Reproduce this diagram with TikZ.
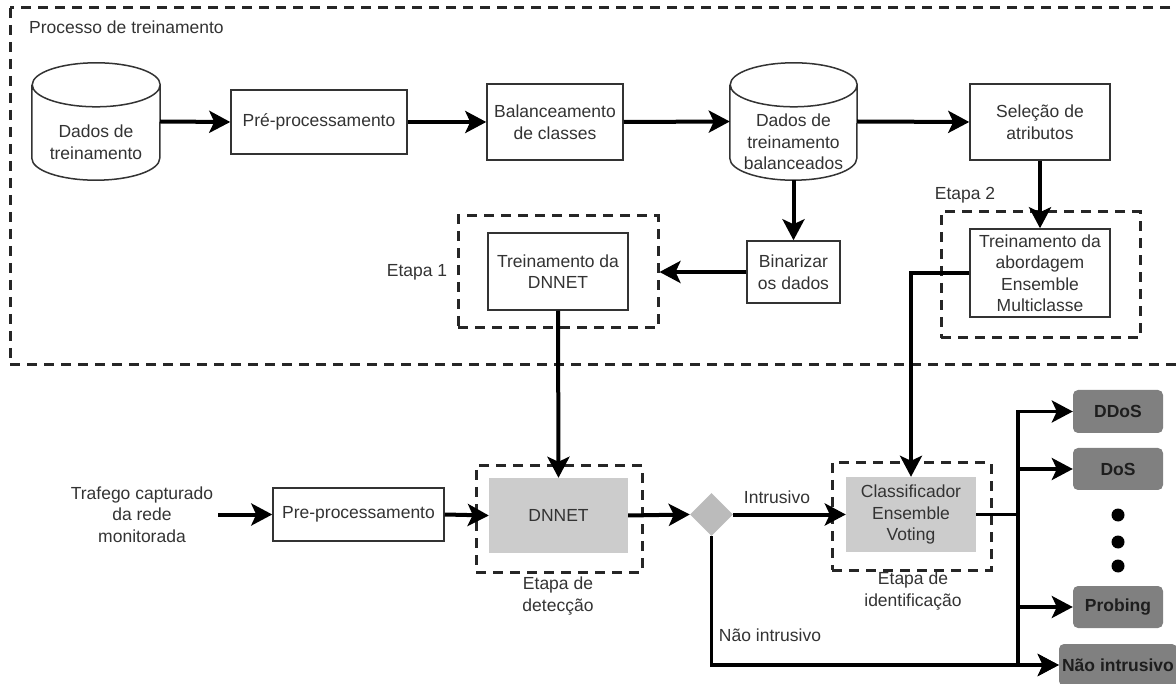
\documentclass[tikz,border=0pt]{standalone}
\usepackage{fontspec}
\setmainfont{Liberation Sans}
\usetikzlibrary{arrows.meta,shapes.geometric}

\definecolor{ink}{HTML}{333333}
\definecolor{lightfill}{HTML}{CCCCCC}
\definecolor{decfill}{HTML}{BBBBBB}
\definecolor{resfill}{HTML}{808080}
\definecolor{restext}{HTML}{1E1E1E}

\tikzset{
  txt/.style={font=\fontsize{17.5}{21.5}\selectfont, text=ink, align=center},
  procbox/.style={txt, draw=ink, line width=1.5pt, fill=white, inner sep=0pt},
  modelbox/.style={txt, fill=lightfill, draw=none, inner sep=0pt},
  stagebox/.style={draw=black!85, line width=3pt, dash pattern=on 10pt off 7pt, inner sep=0pt},
  cylline/.style={draw=ink, line width=1.5pt, fill=white},
  resbox/.style={font=\fontsize{17.5}{21.5}\selectfont\bfseries, text=restext, fill=resfill,
                 rounded corners=5pt, inner sep=0pt, minimum height=42pt},
  decision/.style={diamond, fill=decfill, draw=none, inner sep=0pt, minimum width=43pt, minimum height=43pt},
  dotmark/.style={circle, fill=black, inner sep=0pt, minimum size=13pt},
  flow/.style={line width=4pt, -{Stealth[length=21pt,width=22pt,inset=5pt]}},
  flowthin/.style={line width=3.5pt, -{Stealth[length=21pt,width=22pt,inset=5pt]}},
  link/.style={line width=3.5pt},
}

\begin{document}
\begin{tikzpicture}[x=1pt, y=-1pt]
\useasboundingbox (0,0) rectangle (1176,684);

% training process frame
\draw[stagebox] (10,8) rectangle (1185,365);
\node[txt, anchor=west, inner sep=0pt] (proctitle) at (29,27) {Processo de treinamento};

% training data cylinder
\node[minimum width=128pt, minimum height=117pt, inner sep=0pt] (db1) at (96,121.5) {};
\draw[cylline] ([yshift=-22pt]db1.north west) -- ([yshift=22pt]db1.south west)
  arc[start angle=180, end angle=360, x radius=64pt, y radius=22pt]
  -- ([yshift=-22pt]db1.north east)
  arc[start angle=0, end angle=180, x radius=64pt, y radius=22pt]
  arc[start angle=180, end angle=360, x radius=64pt, y radius=22pt];
\node[txt] (db1txt) at (96,142) {Dados de\\treinamento};

\node[procbox, minimum width=176pt, minimum height=64pt] (pre1) at (319,122) {Pré-processamento};
\node[procbox, minimum width=136pt, minimum height=76pt] (bal) at (555,122) {Balanceamento\\de classes};

% balanced data cylinder
\node[minimum width=127pt, minimum height=117pt, inner sep=0pt] (db2) at (793.5,121.5) {};
\draw[cylline] ([yshift=-22pt]db2.north west) -- ([yshift=22pt]db2.south west)
  arc[start angle=180, end angle=360, x radius=63.5pt, y radius=22pt]
  -- ([yshift=-22pt]db2.north east)
  arc[start angle=0, end angle=180, x radius=63.5pt, y radius=22pt]
  arc[start angle=180, end angle=360, x radius=63.5pt, y radius=22pt];
\node[txt] (db2txt) at (793.5,142) {Dados de\\treinamento\\balanceados};

\node[procbox, minimum width=140pt, minimum height=76pt] (sel) at (1040,122) {Seleção de\\atributos};

% stage 2
\node[stagebox, minimum width=199pt, minimum height=126pt] (e2) at (1040.5,275) {};
\node[txt] (e2lbl) at (965,195) {Etapa 2};
\node[procbox, minimum width=140pt, minimum height=88pt] (treinens) at (1040,273)
  {Treinamento da\\abordagem\\Ensemble\\Multiclasse};

\node[procbox, minimum width=93pt, minimum height=62pt] (bin) at (793.5,272) {Binarizar\\os dados};

% stage 1
\node[stagebox, minimum width=200pt, minimum height=112pt] (e1) at (558,272) {};
\node[txt] (e1lbl) at (417,272) {Etapa 1};
\node[procbox, minimum width=140pt, minimum height=77pt] (treindnn) at (558,271.5) {Treinamento da\\DNNET};

% detection pipeline
\node[txt, inner sep=5pt] (traffic) at (142,514.5) {Trafego capturado\\da rede\\monitorada};
\node[procbox, minimum width=171pt, minimum height=53pt] (pre2) at (358.5,514.5) {Pre-processamento};

\node[stagebox, minimum width=166pt, minimum height=106pt] (e3) at (559,519) {};
\node[modelbox, minimum width=139pt, minimum height=75pt] (dnnet) at (558.5,515.5) {DNNET};
\node[txt] (e3lbl) at (558,596) {Etapa de\\detecção};

\node[decision] (dec) at (711.5,514.5) {};
\node[txt] (intlbl) at (777,497) {Intrusivo};
\node[txt] (naolbl) at (770,635) {Não intrusivo};

\node[stagebox, minimum width=159pt, minimum height=107pt] (e4) at (911.5,516.5) {};
\node[modelbox, minimum width=130pt, minimum height=75pt] (cls) at (911,514.5) {Classificador\\Ensemble\\Voting};
\node[txt] (e4lbl) at (913,591) {Etapa de\\identificação};

% classes
\node[resbox, minimum width=90pt, minimum height=43pt] (ddos) at (1118,411.5) {DDoS};
\node[resbox, minimum width=90pt] (dos) at (1118,469) {DoS};
\node[dotmark] (dot1) at (1118,515) {};
\node[dotmark] (dot2) at (1118,542) {};
\node[dotmark] (dot3) at (1118,566) {};
\node[resbox, minimum width=90pt] (probing) at (1118,607) {Probing};
\node[resbox, minimum width=118pt] (nao) at (1118,665) {Não intrusivo};

\coordinate (trunk) at (1018,514.5);

% training connectors
\draw[flow] (db1.east) -- (pre1.west);
\draw[flow] (pre1.east) -- (bal.west);
\draw[flow] (bal.east) -- (db2.west);
\draw[flow] (db2.east) -- (sel.west);
\draw[flow] (sel.south) -- (treinens.north);
\draw[flow] (db2.south) -- (bin.north);
\draw[flow] (bin.west) -- (e1.east);
\draw[flow] (treindnn.south) -- (dnnet.north);
\draw[flowthin] (treinens.west) -| (cls.north);

% detection connectors
\draw[flow] (traffic.east) -- (pre2.west);
\draw[flow] (pre2.east) -- (dnnet.west);
\draw[flow] (dnnet.east) -- (dec.west);
\draw[flow] (dec.east) -- (cls.west);
\draw[link] (cls.east) -- (trunk);
\draw[flowthin] (trunk) |- (ddos.west);
\draw[flowthin] (trunk) |- (dos.west);
\draw[flowthin] (trunk) |- (probing.west);
\draw[flowthin] (trunk) |- (nao.west);
\draw[flowthin] (dec.south) |- (nao.west);
\end{tikzpicture}
\end{document}
